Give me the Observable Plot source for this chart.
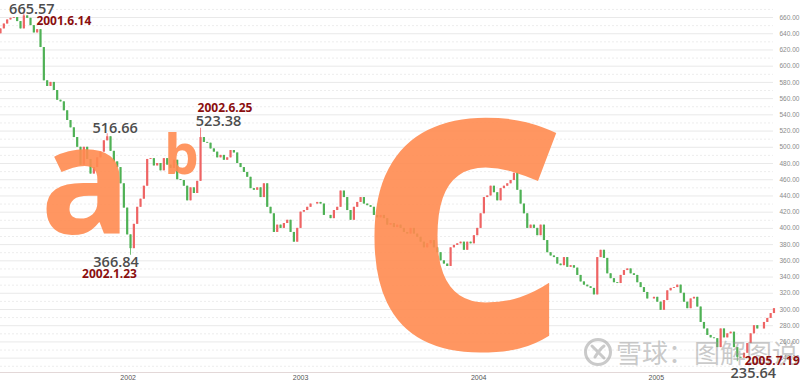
<!DOCTYPE html>
<html><head><meta charset="utf-8">
<script src="https://cdn.jsdelivr.net/npm/d3@7"></script>
<script src="https://cdn.jsdelivr.net/npm/@observablehq/plot@0.6"></script>
<style>
body{margin:0;background:#fff;}
#wrap{position:relative;width:800px;height:384px;overflow:hidden;background:#fff;}
#wm{position:absolute;left:583px;top:337px;height:30px;display:flex;align-items:center;
  font-family:"Noto Sans CJK SC",sans-serif;font-size:26px;line-height:30px;color:rgba(150,150,150,0.5);white-space:nowrap;}
#wm svg{margin-right:3px;}
</style></head><body><div id="wrap"></div>
<script>
// weekly closes, first week ending 2001-04-27
const firstWeek = new Date(2001, 3, 27);
const firstOpen = 640;
const closes = [
 646,652,657,659,660,655,646,662,659,650,641,645,623,582,575,580,570,558,556,545,
 533,524,512,500,478,500,485,467,475,487,494,508,513,495,482,475,455,425,392,375,
 405,426,436,452,485,486,477,480,471,486,478,474,484,460,459,452,434,450,443,458,
 512,506,505,498,494,487,490,484,487,496,493,480,475,469,463,449,447,450,438,455,
 426,418,395,404,400,406,410,395,383,400,420,422,426,430,430,432,430,416,416,412,
 422,426,446,438,422,410,426,432,438,430,428,426,416,413,416,412,404,406,401,404,
 400,395,393,400,393,389,383,376,381,385,376,370,360,356,353,376,379,381,383,373,
 383,381,391,400,418,438,440,452,444,434,449,452,455,459,468,447,430,418,400,404,
 400,391,404,385,370,366,364,356,354,364,352,354,351,342,334,330,328,326,318,364,
 373,363,344,338,333,332,342,348,350,344,342,333,327,321,313,313,315,309,299,311,
 323,326,327,330,320,309,301,313,315,303,284,276,268,265,264,253,276,265,270,272,
 253,241,240,246,258,270,280,276,276,284,289,295,301
];
// annotated extremes: week index, value, date label
const highIdx = [7, 32, 60];
const highVal = [665.57, 516.66, 523.38];
const lowIdx = [39, 221];
const lowVal = [366.84, 235.64];
const dateLabels = ["2001.6.14", "2002.1.23", "2002.6.25", "2005.7.19"];
const yearTicks = [new Date(2002,0,20), new Date(2003,0,17), new Date(2004,0,26), new Date(2005,1,2)];
const yMajor = [240,260,280,300,320,340,360,380,400,420,440,460,480,500,520,540,560,580,600,620,640,660];
const yMinor = [230,250,270,290,310,330,350,370,390,410,430,450,470,490,510,530,550,570,590,610,630,650,670];
const waveLetters = ["a", "b", "c"];

const candles = closes.map((c, i) => {
  const open = i ? closes[i-1] : firstOpen;
  let high = Math.max(open, c), low = Math.min(open, c);
  const hi = highIdx.indexOf(i); if (hi >= 0) high = highVal[hi];
  const lo = lowIdx.indexOf(i); if (lo >= 0) low = lowVal[lo];
  return {date: d3.timeDay.offset(firstWeek, 7*i), open, close: c, high, low};
});
const colorOf = d => d.close >= d.open ? "#ee6464" : "#4fb155";
const wk = i => candles[i].date;

const numFont = {fontFamily: "Open Sans", fontWeight: 600, fontSize: 14.5, fill: "#4d4d4d"};
const dateFont = {fontFamily: "Open Sans", fontWeight: 700, fontSize: 12, fill: "#8b0f0f"};
const letterStyle = {fontFamily: "Open Sans", fontWeight: 700, fill: "#ff8b50", fillOpacity: 0.9, lineAnchor: "bottom", textAnchor: "middle", frameAnchor: "top-left"};

const chart = Plot.plot({
  width: 800, height: 384,
  marginLeft: 0, marginRight: 27, marginTop: 0, marginBottom: 12,
  style: {background: "transparent", fontFamily: "Liberation Sans, sans-serif", overflow: "visible"},
  x: {type: "time", domain: [firstWeek, new Date(2005, 9, 6)]},
  y: {domain: [222.3, 681]},
  marks: [
    Plot.gridY(yMinor, {stroke: "#ededed", strokeOpacity: 1, strokeDasharray: "2,2"}),
    Plot.gridY(yMajor, {stroke: "#e9e9e9", strokeOpacity: 1}),
    Plot.ruleY([222.3], {stroke: "#e3d8d8", strokeWidth: 1.2}),
    Plot.axisY({anchor: "right", ticks: yMajor, tickFormat: d3.format(".2f"), tickSize: 0, tickPadding: 6, fontSize: 6.5, fill: "#8a8a8a", label: null}),
    Plot.axisX({ticks: yearTicks, tickFormat: d3.timeFormat("%Y"), tickSize: 0, tickPadding: 3, fontSize: 7, fill: "#555", label: null}),
    Plot.ruleX(candles, {x: "date", y1: "low", y2: "high", stroke: colorOf, strokeWidth: 0.8}),
    Plot.ruleX(candles, {x: "date", y1: "open", y2: "close", stroke: colorOf, strokeWidth: 2.2}),
    Plot.text([waveLetters[0]], {...letterStyle, fontSize: 150, dx: 85, dy: 233}),
    Plot.text([waveLetters[1]], {...letterStyle, fontSize: 55, dx: 181, dy: 173}),
    Plot.text([waveLetters[2]], {...letterStyle, fontSize: 415, dx: 462, dy: 348}),
    // labels
    Plot.text([0], {x: () => wk(highIdx[0]), y: () => highVal[0], text: () => highVal[0].toFixed(2), dx: 8, dy: -3.5, ...numFont}),
    Plot.text([0], {x: () => wk(highIdx[0]), y: () => highVal[0], text: () => dateLabels[0], dx: 40, dy: 8, ...dateFont}),
    Plot.text([0], {x: () => wk(highIdx[1]), y: () => highVal[1], text: () => highVal[1].toFixed(2), dx: 8, dy: -5, ...numFont}),
    Plot.text([0], {x: () => wk(lowIdx[0]), y: () => lowVal[0], text: () => lowVal[0].toFixed(2), dx: -14.5, dy: 6.7, ...numFont}),
    Plot.text([0], {x: () => wk(lowIdx[0]), y: () => lowVal[0], text: () => dateLabels[1], dx: -21, dy: 18.7, ...dateFont}),
    Plot.text([0], {x: () => wk(highIdx[2]), y: () => highVal[2], text: () => dateLabels[2], dx: 24.5, dy: -20.3, ...dateFont}),
    Plot.text([0], {x: () => wk(highIdx[2]), y: () => highVal[2], text: () => highVal[2].toFixed(2), dx: 18, dy: -6.8, ...numFont}),
  ]
});
document.getElementById("wrap").appendChild(chart);

// watermark
const wm = document.createElement("div");
wm.id = "wm";
wm.innerHTML = '<svg width="30" height="30" viewBox="0 0 30 30"><circle cx="15" cy="15" r="12.5" fill="none" stroke="rgba(150,150,150,0.5)" stroke-width="3"/><path d="M9 9 L21 21 M21 9 C17 12 15 15 12 20" fill="none" stroke="rgba(150,150,150,0.5)" stroke-width="3" stroke-linecap="round"/></svg><span>雪球：图解图说</span>';
document.getElementById("wrap").appendChild(wm);

// bottom-right labels drawn over the watermark
const overlay = Plot.plot({
  width: 800, height: 384,
  marginLeft: 0, marginRight: 27, marginTop: 0, marginBottom: 12,
  style: {background: "transparent", position: "absolute", left: "0px", top: "0px", overflow: "visible"},
  x: {type: "time", domain: [firstWeek, new Date(2005, 9, 6)], axis: null},
  y: {domain: [222.3, 681], axis: null},
  marks: [
    Plot.text([0], {x: () => wk(lowIdx[1]), y: () => lowVal[1], text: () => dateLabels[3], dx: 35, dy: -1, ...dateFont}),
    Plot.text([0], {x: () => wk(lowIdx[1]), y: () => lowVal[1], text: () => lowVal[1].toFixed(2), dx: 16, dy: 11.4, ...numFont}),
  ]
});
document.getElementById("wrap").appendChild(overlay);
</script>
</body></html>
